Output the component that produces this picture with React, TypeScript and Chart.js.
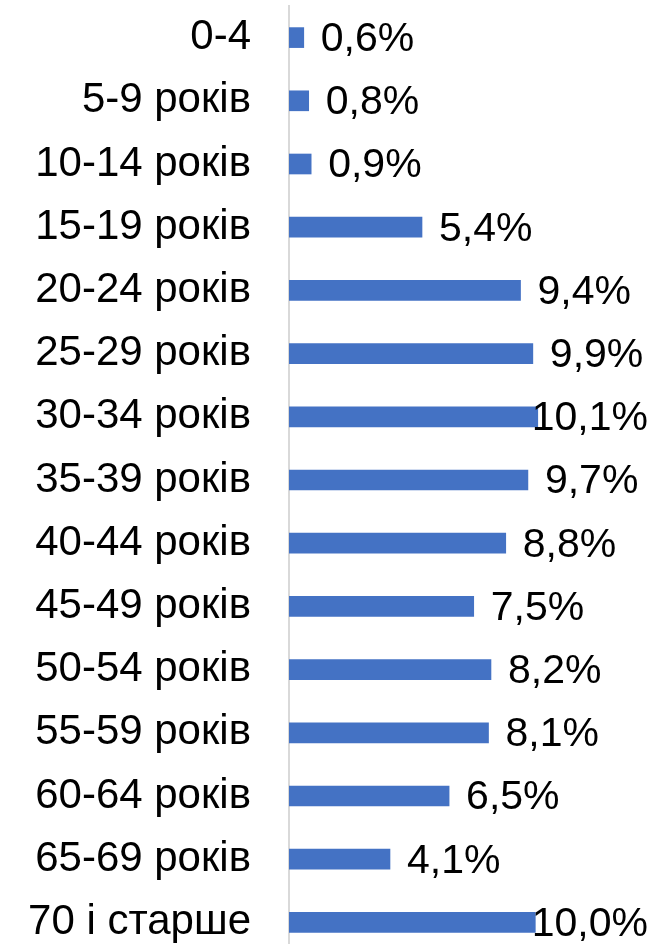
import React, { useEffect, useRef } from "react";
import { Chart, registerables } from "chart.js";

Chart.register(...registerables);

const categories = [
  "0-4",
  "5-9 років",
  "10-14 років",
  "15-19 років",
  "20-24 років",
  "25-29 років",
  "30-34 років",
  "35-39 років",
  "40-44 років",
  "45-49 років",
  "50-54 років",
  "55-59 років",
  "60-64 років",
  "65-69 років",
  "70 і старше",
];

const shares = [0.6, 0.8, 0.9, 5.4, 9.4, 9.9, 10.1, 9.7, 8.8, 7.5, 8.2, 8.1, 6.5, 4.1, 10.0];

const FONT = "'Liberation Sans', Arial, sans-serif";
const BAR_COLOR = "#4472C4";

const valueLabels = {
  id: "valueLabels",
  afterDatasetsDraw(chart: any) {
    const ctx = chart.ctx;
    const meta = chart.getDatasetMeta(0);
    ctx.save();
    ctx.font = `41px ${FONT}`;
    ctx.fillStyle = "#000000";
    ctx.textBaseline = "middle";
    ctx.textAlign = "left";
    meta.data.forEach((bar: any, i: number) => {
      const text = shares[i].toFixed(1).replace(".", ",") + "%";
      const w = ctx.measureText(text).width;
      let x = bar.x + 17;
      if (x + w > 648) x = 648 - w;
      ctx.fillText(text, x, bar.y + 2);
    });
    ctx.restore();
  },
};

export default function App() {
  const ref = useRef<HTMLCanvasElement>(null);

  useEffect(() => {
    document.body.style.margin = "0";
    const chart = new Chart(ref.current!, {
      type: "bar",
      data: {
        labels: categories,
        datasets: [
          {
            data: shares,
            backgroundColor: BAR_COLOR,
            barThickness: 20,
          },
        ],
      },
      options: {
        indexAxis: "y",
        animation: false,
        responsive: false,
        maintainAspectRatio: false,
        layout: { padding: { top: 6, bottom: 1, left: 0, right: 0 } },
        plugins: {
          legend: { display: false },
          tooltip: { enabled: false },
        },
        scales: {
          x: {
            display: false,
            min: 0,
            max: 14.9,
          },
          y: {
            afterFit(scale: any) {
              scale.width = 289;
              scale.paddingTop = 0;
              scale.paddingBottom = 0;
            },
            grid: { display: false, drawTicks: false },
            border: { display: true, color: "#D9D9D9", width: 2 },
            ticks: {
              padding: 38,
              color: "#000000",
              font: { family: FONT, size: 42 },
            },
          },
        },
      },
      plugins: [valueLabels],
    });
    return () => chart.destroy();
  }, []);

  return (
    <div style={{ position: "fixed", left: 0, top: 0, width: 656, height: 944, overflow: "hidden", background: "#fff" }}>
      <canvas ref={ref} width={656} height={955} style={{ width: 656, height: 955, display: "block" }} />
    </div>
  );
}
